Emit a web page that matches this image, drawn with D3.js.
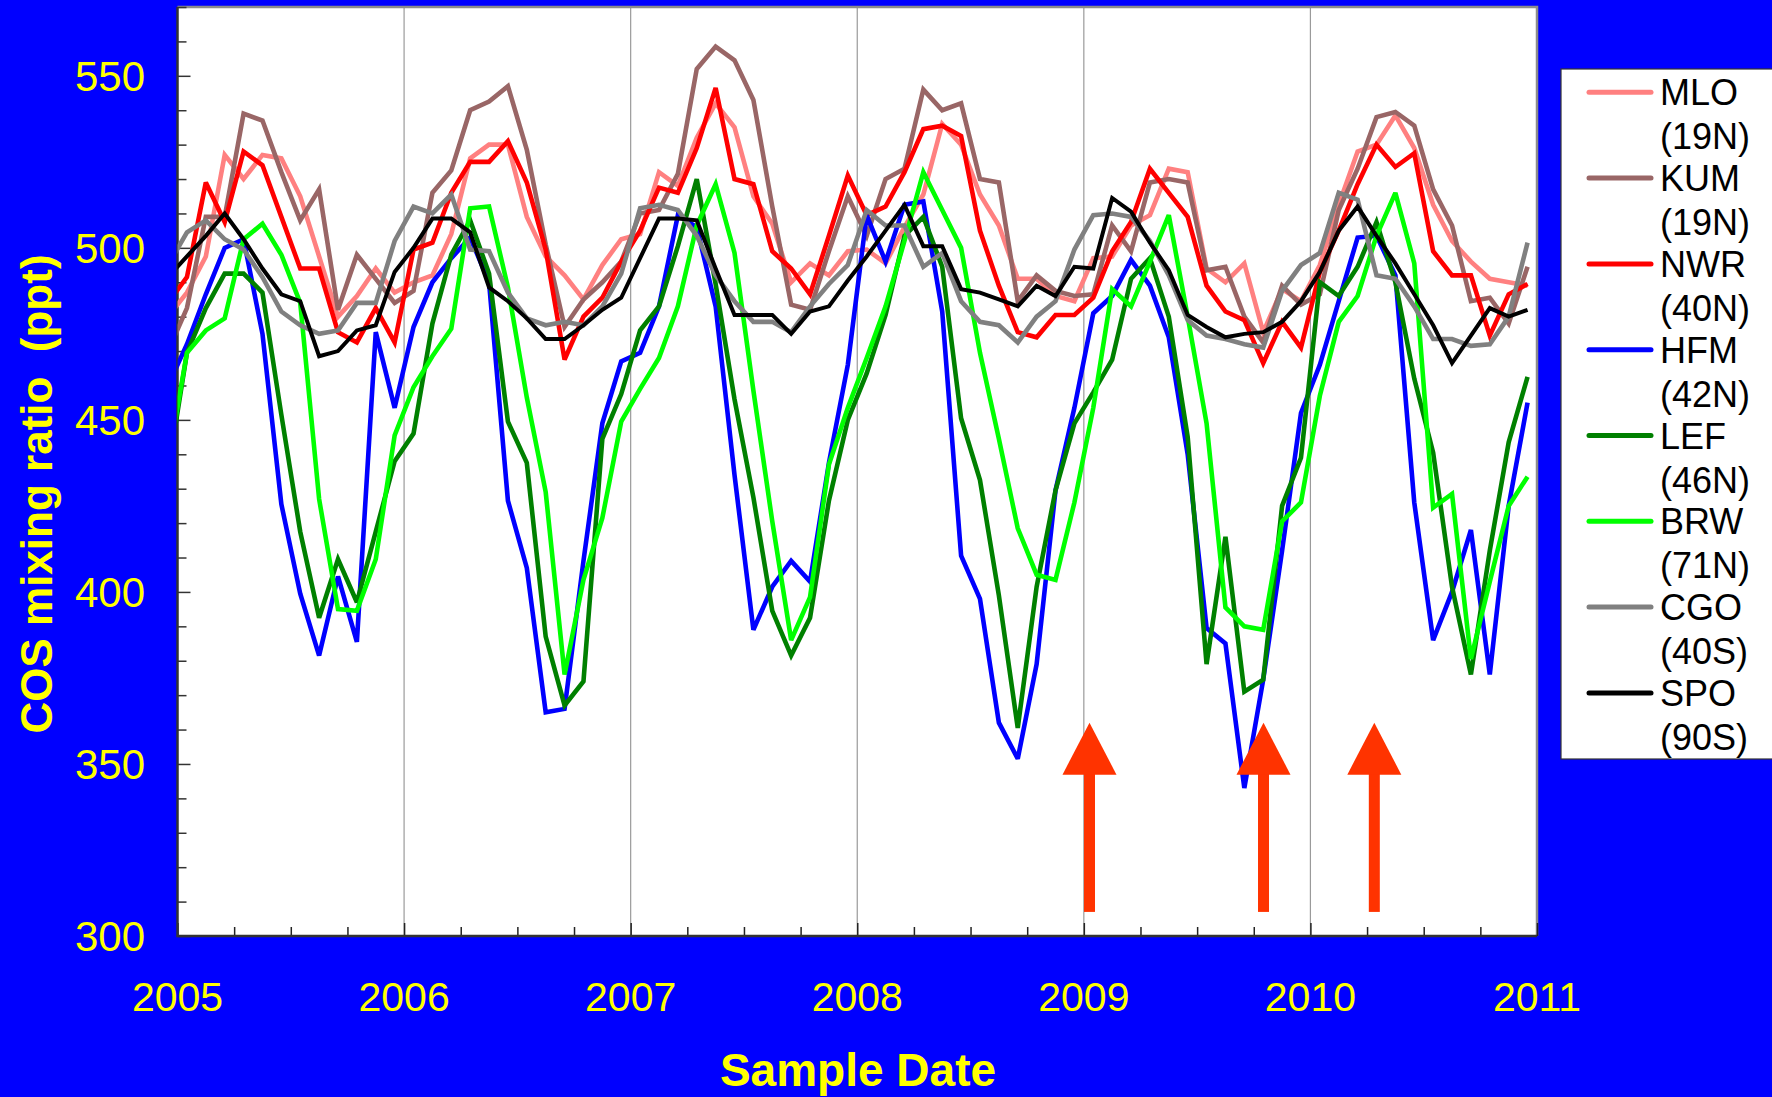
<!DOCTYPE html>
<html>
<head>
<meta charset="utf-8">
<script src="https://d3js.org/d3.v7.min.js"></script>
<style>
  html, body { margin: 0; padding: 0; background: #0000ff; }
  svg { display: block; }
  text { font-family: "Liberation Sans", Arial, sans-serif; }
</style>
</head>
<body>
<svg id="chart" width="1772" height="1097"></svg>
<script>
// Monthly COS mixing ratios (ppt), Dec 2004 through Dec 2010 (73 values per station)
const stations = ["MLO", "KUM", "NWR", "HFM", "LEF", "BRW", "CGO", "SPO"];
const latitudes = ["(19N)", "(19N)", "(40N)", "(42N)", "(46N)", "(71N)", "(40S)", "(90S)"];

const mlo = [480,
  487, 497.5, 527, 520, 527, 526, 515, 497.5, 480, 486, 494, 487,
  490, 492, 504, 526, 530, 530, 509, 497.5, 492, 485, 495, 502.5,
  504, 522, 518, 532, 542, 535, 515, 507, 490, 495.5, 492, 499,
  499.5, 495.5, 506, 515.5, 536, 530, 515.5, 506.5, 491, 491, 486, 484.5,
  497, 497.5, 506.5, 509.5, 523, 522, 494, 490, 495.5, 475.5, 488, 484.5,
  495, 512.5, 528, 530, 538.5, 529, 512.5, 502, 496, 491, 490, 489];

const kum = [470,
  482.5, 509, 509, 539, 537, 522, 508, 517, 482, 498, 491, 484,
  487.5, 516, 522.5, 540, 542.5, 547, 528.5, 501, 477, 485, 490, 496,
  510, 511, 521.5, 552, 558.5, 554.5, 543, 512, 483.5, 482, 499, 515,
  503.5, 520, 523, 546, 540, 542, 520, 519, 484.5, 492, 487.5, 486,
  486.5, 506.5, 499, 519, 520, 519, 493.5, 494.5, 480, 472.5, 489, 483.5,
  486.5, 511, 523, 538, 539.5, 535.5, 517, 506.5, 484.5, 485.5, 478, 494.5];

const nwr = [484,
  491.5, 519, 507.5, 528, 524, 509, 494, 494, 475.5, 472.5, 482.5, 472.5,
  499.5, 501.5, 516, 525, 525, 531, 519, 499.5, 467.5, 480, 485.5, 496,
  505, 517.5, 516, 529, 546.5, 520, 518.5, 499, 494, 486.5, 503.5, 521,
  509.5, 512, 522, 534.5, 535.5, 532.5, 505, 489, 475.5, 474, 480.5, 480.5,
  485.5, 499, 507.5, 523, 516, 509, 489, 481.5, 479, 466.5, 478.5, 471,
  493, 505, 518.5, 530, 523.5, 527.5, 499, 492, 492, 474.5, 486.5, 489.5];

const hfm = [460,
  472, 486.5, 500, 502.5, 475, 425.5, 399.5, 381.5, 404.5, 385.5, 475.5, 453.5,
  477, 490, 497, 503, 490, 426.5, 407, 365, 366, 409, 449, 467,
  469.5, 483, 509.5, 506, 483, 434, 389, 401.5, 409, 403, 437.5, 466,
  509.5, 496, 512.5, 513.5, 481.5, 410.5, 398, 362, 351.5, 379, 429.5, 453.5,
  481, 486, 496.5, 489, 474, 440, 389.5, 385, 343, 374.5, 412, 452,
  466, 484.5, 503, 503.5, 492, 426, 386, 400, 418, 376, 425, 455];

const lef = [435,
  469.5, 482.5, 492.5, 492.5, 487, 451.5, 417.5, 392.5, 409.5, 397, 417.5, 438,
  446, 478, 498, 508, 492.5, 449.5, 437.5, 387, 367, 374, 444.5, 457.5,
  476, 483, 500.5, 520, 489.5, 456, 427.5, 394.5, 381.5, 392.5, 426.5, 450,
  463.5, 480.5, 503.5, 509, 494.5, 450.5, 432.5, 399, 360.5, 401.5, 429.5, 449,
  458, 467.5, 491, 497, 480, 445, 379, 416, 371, 374.5, 425, 439,
  490, 486, 494.5, 507.5, 490, 462, 440.5, 401.5, 376, 412, 443.5, 462.5];

const brw = [438,
  469.5, 476, 479.5, 502.5, 507, 498, 484, 427, 395, 394.5, 409.5, 445.5,
  459.5, 468.5, 476.5, 511.5, 512, 488.5, 456.5, 429, 376, 403.5, 421.5, 449.5,
  459, 468, 483, 506.5, 518.5, 498.5, 458.5, 420.5, 386, 398.5, 437, 453.5,
  468, 483, 502, 522, 511, 500, 469.5, 444.5, 418.5, 405, 403.5, 426,
  453.5, 488, 483, 496, 509.5, 480, 449, 395.5, 390, 389, 420.5, 426,
  457, 478.5, 486, 503.5, 516, 495.5, 424.5, 428.5, 380.5, 403, 425, 433.5];

const cgo = [495,
  504.5, 508, 502.5, 499.5, 491.5, 481.5, 477.5, 475, 476, 484, 484, 502,
  512, 510, 515.5, 499.5, 499, 487, 479.5, 477.5, 478.5, 477.5, 483, 492.5,
  511.5, 512.5, 511, 503.5, 492, 484.5, 478.5, 478.5, 475.5, 483, 489.5, 495,
  511, 506.5, 506.5, 494.5, 498.5, 484.5, 478.5, 477.5, 472.5, 480, 484.5, 499.5,
  509.5, 510, 509, 502, 492, 479, 474.5, 473.5, 472, 471, 487.5, 495,
  498.5, 516, 514, 492, 491, 483, 473.5, 473.5, 471.5, 472, 480, 501.5];

const spo = [491.5,
  497.5, 503.5, 510, 502.5, 494, 486.5, 484.5, 468.5, 470, 476, 477.5, 493,
  500, 508.5, 508.5, 504.5, 488.5, 484.5, 479.5, 473.5, 473.5, 477.5, 482, 485.5,
  497, 508.5, 508.5, 508, 494, 480.5, 480.5, 480.5, 475, 481.5, 483, 490.5,
  497.5, 505, 512.5, 500.5, 500.5, 488, 487, 485, 483, 489, 486, 494.5,
  494, 514.5, 510.5, 501.5, 493.5, 480.5, 477, 474, 475, 475.5, 478.5, 484.5,
  493, 505, 512, 503.5, 495.5, 486.5, 477.5, 466.5, 474.5, 482.5, 480, 482];

// Sample dates: middle of each month, Dec 2004 .. Dec 2010
const sampleDates = d3.range(-1, 72).map(m => 2005 + (m + 0.5) / 12);

const yearTicks = [2005, 2006, 2007, 2008, 2009, 2010, 2011];
const yTicks = [300, 350, 400, 450, 500, 550];

// Markers pointing at selected dates (decimal year), drawn from 307 up to 362 ppt
const arrowDates = [2009.025, 2009.793, 2010.282];
const arrowFrom = 307;
const arrowTo = 362;

const values = [mlo, kum, nwr, hfm, lef, brw, cgo, spo];
const colors = ["#ff8080", "#996666", "#ff0000", "#0000ff", "#008000", "#00ff00", "#808080", "#000000"];

const svg = d3.select("#chart");
const plot = { left: 177.5, right: 1537, top: 7, bottom: 936 };

const x = d3.scaleLinear().domain([2005, 2011]).range([plot.left, plot.right]);
const y = d3.scaleLinear().domain([300, 570]).range([plot.bottom, plot.top]);

// plot background
svg.append("rect")
  .attr("x", plot.left).attr("y", plot.top)
  .attr("width", plot.right - plot.left).attr("height", plot.bottom - plot.top)
  .attr("fill", "#ffffff");

svg.append("clipPath").attr("id", "plotClip")
  .append("rect")
  .attr("x", plot.left).attr("y", plot.top)
  .attr("width", plot.right - plot.left).attr("height", plot.bottom - plot.top);

// vertical year gridlines
svg.append("g").selectAll("line")
  .data(yearTicks.slice(1, -1))
  .join("line")
  .attr("x1", d => x(d)).attr("x2", d => x(d))
  .attr("y1", plot.top).attr("y2", plot.bottom)
  .attr("stroke", "#9a9a9a").attr("stroke-width", 1.2);

// top and right frame
svg.append("path")
  .attr("d", `M${plot.left},${plot.top}H${plot.right}V${plot.bottom}`)
  .attr("fill", "none").attr("stroke", "#8c8c8c").attr("stroke-width", 2.5);

// y axis: inward ticks every 10 ppt, longer at multiples of 50
const yAxis = d3.axisRight(y)
  .tickValues(d3.range(300, 571, 10))
  .tickSize(0)
  .tickFormat("");
const gy = svg.append("g").attr("transform", `translate(${plot.left},0)`).call(yAxis);
gy.select(".domain").remove();
gy.selectAll(".tick line")
  .attr("x2", d => d % 50 === 0 ? 13 : 9)
  .attr("stroke", "#333").attr("stroke-width", 1.5);

// x axis: inward ticks every quarter, longer at each year
const xAxis = d3.axisTop(x)
  .tickValues(d3.range(0, 25).map(q => 2005 + q / 4))
  .tickSize(0)
  .tickFormat("");
const gx = svg.append("g").attr("transform", `translate(0,${plot.bottom})`).call(xAxis);
gx.select(".domain").remove();
gx.selectAll(".tick line")
  .attr("y2", (d, i) => i % 4 === 0 ? -13 : -9)
  .attr("stroke", "#222").attr("stroke-width", 1.5);

// left and bottom axis lines
svg.append("path")
  .attr("d", `M${plot.left},${plot.top}V${plot.bottom}H${plot.right}`)
  .attr("fill", "none").attr("stroke", "#333").attr("stroke-width", 2.5);

// tick labels
svg.append("g").selectAll("text")
  .data(yTicks)
  .join("text")
  .attr("x", 145).attr("y", d => y(d) + 15)
  .attr("text-anchor", "end")
  .attr("fill", "#ffff00")
  .attr("font-size", 42)
  .text(d => d);

svg.append("g").selectAll("text")
  .data(yearTicks)
  .join("text")
  .attr("x", d => x(d)).attr("y", 1011)
  .attr("text-anchor", "middle")
  .attr("fill", "#ffff00")
  .attr("font-size", 41)
  .text(d => d);

// axis titles
svg.append("text")
  .attr("x", 858).attr("y", 1086)
  .attr("text-anchor", "middle")
  .attr("fill", "#ffff00")
  .attr("font-size", 46).attr("font-weight", "bold")
  .text("Sample Date");

svg.append("text")
  .attr("transform", "translate(52,494) rotate(-90)")
  .attr("text-anchor", "middle")
  .attr("fill", "#ffff00")
  .attr("font-size", 44).attr("font-weight", "bold")
  .style("white-space", "pre")
  .text("COS mixing ratio  (ppt)");

// station time series
const line = d3.line()
  .x((d, i) => x(sampleDates[i]))
  .y(d => y(d));

svg.append("g").attr("clip-path", "url(#plotClip)")
  .selectAll("path")
  .data(values)
  .join("path")
  .attr("d", d => line(d))
  .attr("fill", "none")
  .attr("stroke", (d, i) => colors[i])
  .attr("stroke-width", (d, i) => i === 7 ? 4 : 4.6)
  .attr("stroke-linejoin", "miter")
  .attr("stroke-miterlimit", 3);

// arrows
const arrowColor = "#ff3300";
const headH = 52, headW = 27, shaftW = 11;
const ag = svg.append("g");
arrowDates.forEach(t => {
  const cx = x(t), yTip = y(arrowTo), yTail = y(arrowFrom);
  ag.append("rect")
    .attr("x", cx - shaftW / 2).attr("y", yTip + headH - 1)
    .attr("width", shaftW).attr("height", yTail - yTip - headH + 1)
    .attr("fill", arrowColor);
  ag.append("path")
    .attr("d", `M${cx},${yTip}L${cx + headW},${yTip + headH}L${cx - headW},${yTip + headH}Z`)
    .attr("fill", arrowColor);
});

// legend
const lg = svg.append("g");
lg.append("rect")
  .attr("x", 1561).attr("y", 69).attr("width", 240).attr("height", 690)
  .attr("fill", "#ffffff").attr("stroke", "#333").attr("stroke-width", 1.2);
const step = 85.8;
stations.forEach((s, i) => {
  const y0 = 92.3 + i * step;
  lg.append("line")
    .attr("x1", 1589).attr("x2", 1651).attr("y1", y0).attr("y2", y0)
    .attr("stroke", colors[i]).attr("stroke-width", 5).attr("stroke-linecap", "round");
  lg.append("text")
    .attr("x", 1660).attr("y", y0 + 13)
    .attr("font-size", 36).attr("fill", "#000")
    .text(s);
  lg.append("text")
    .attr("x", 1660).attr("y", y0 + 57)
    .attr("font-size", 36).attr("fill", "#000")
    .text(latitudes[i]);
});
</script>
</body>
</html>
